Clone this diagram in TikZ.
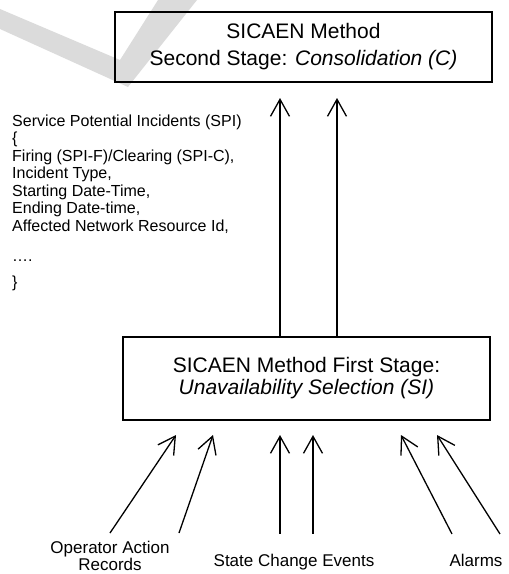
\documentclass[tikz,border=0pt]{standalone}
\usepackage{fontspec}
\setmainfont{Liberation Sans}
\usepackage{tikz}
\usetikzlibrary{arrows.meta,positioning}
\tikzset{stagebox/.style={draw,line width=2pt,align=center,inner sep=0pt},
feed/.style={-{Straight Barb[length=17pt,width=19pt,line width=1.3pt]},line width=1.3pt},
srclabel/.style={inner sep=0pt,align=center,font=\fontsize{17}{17.4}\selectfont}}

\begin{document}
\begin{tikzpicture}[x=1pt,y=-1pt]
\useasboundingbox (0,0) rectangle (509,574);
\fill[gray!28] (0,9) -- (120,60) -- (158,0) -- (197,0) -- (128,87) -- (0,29) -- cycle;
\node[stagebox,minimum width=377pt,minimum height=70pt,font=\fontsize{21}{27}\selectfont] (consol) at (303.5,47)
{SICAEN Method\\Second Stage: \textit{Consolidation (C)}};
\node[stagebox,minimum width=367pt,minimum height=83pt,font=\fontsize{21}{22}\selectfont] (select) at (306.5,378.5)
{SICAEN Method First Stage:\\\textit{Unavailability Selection (SI)}};
\node[anchor=north west,inner sep=0pt,align=left,font=\fontsize{16}{17.5}\selectfont] (spi) at (12,114.5)
{Service Potential Incidents (SPI)\\
\{\\
Firing (SPI-F)/Clearing (SPI-C),\\
Incident Type,\\
Starting Date-Time,\\
Ending Date-time,\\
Affected Network Resource Id,\\[12.5pt]
….\\[8.5pt]
\}};
\node[srclabel,anchor=north] (oar) at (110,541) {Operator Action\\Records};
\node[srclabel,anchor=base] (sce) at (294,566.5) {State Change Events};
\node[srclabel,anchor=base] (alm) at (476,566.5) {Alarms};
\coordinate (up1) at (280,98);
\coordinate (up2) at (337,98);
\coordinate (in1) at (176,435);
\coordinate (in2) at (213,435);
\coordinate (in3) at (280,435);
\coordinate (in4) at (313,435);
\coordinate (in5) at (401,435);
\coordinate (in6) at (437,435);
\draw[feed] (up1 |- select.north) -- (up1);
\draw[feed] (up2 |- select.north) -- (up2);
\draw[feed] (oar.north) ++(0,-8) -- (in1);
\draw[feed] (oar.north -| 179,0) ++(0,-8) -- (in2);
\draw[feed] (sce.north -| in3) ++(0,-20) -- (in3);
\draw[feed] (sce.north -| in4) ++(0,-20) -- (in4);
\draw[feed] (alm.north -| 452,0) ++(0,-20) -- (in5);
\draw[feed] (alm.north -| 500,0) ++(0,-20) -- (in6);
\end{tikzpicture}
\end{document}
